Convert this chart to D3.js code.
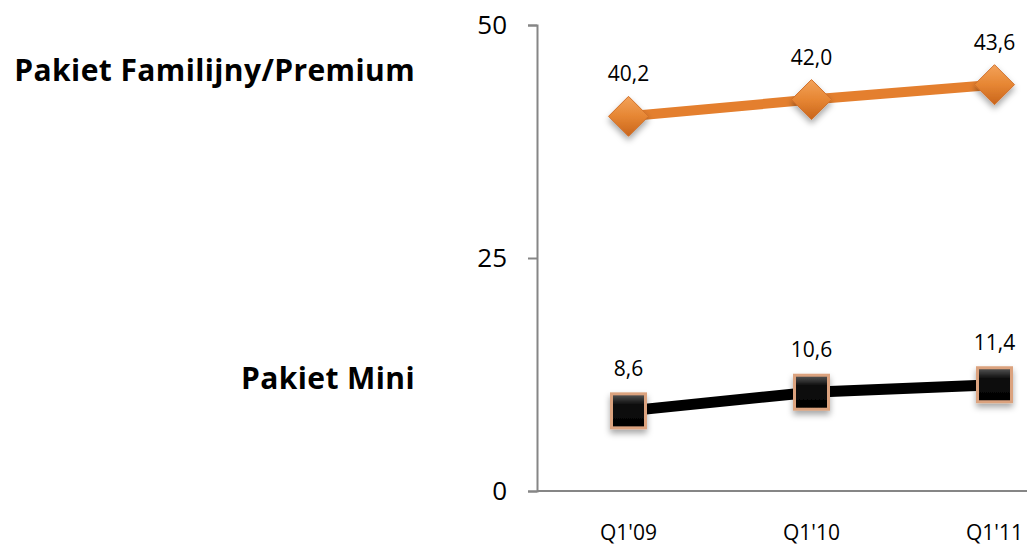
<!DOCTYPE html>
<html>
<head>
<meta charset="utf-8">
<script src="https://cdn.jsdelivr.net/npm/d3@7/dist/d3.min.js"></script>
<style>
  body { margin: 0; background: #fff; }
  text { font-family: "Open Sans", "Noto Sans", sans-serif; }
</style>
</head>
<body>
<div id="chart"></div>
<script>
var categories = ["Q1'09", "Q1'10", "Q1'11"];
var premium = [40.2, 42.0, 43.6];
var mini = [8.6, 10.6, 11.4];
var yTicks = [0, 25, 50];
var seriesNames = ["Pakiet Familijny/Premium", "Pakiet Mini"];

var w = 1027, h = 547;
var svg = d3.select("#chart").append("svg")
    .attr("width", w).attr("height", h);

var defs = svg.append("defs");
var gOr = defs.append("linearGradient").attr("id", "gOr")
    .attr("x1", 0).attr("y1", 0).attr("x2", 0).attr("y2", 1);
gOr.append("stop").attr("offset", "0%").attr("stop-color", "#f3a25a");
gOr.append("stop").attr("offset", "50%").attr("stop-color", "#e68633");
gOr.append("stop").attr("offset", "100%").attr("stop-color", "#c9651c");
var gBk = defs.append("linearGradient").attr("id", "gBk")
    .attr("x1", 0).attr("y1", 0).attr("x2", 0).attr("y2", 1);
gBk.append("stop").attr("offset", "0%").attr("stop-color", "#5a5a5a");
gBk.append("stop").attr("offset", "30%").attr("stop-color", "#111");
gBk.append("stop").attr("offset", "100%").attr("stop-color", "#000");
var sh = defs.append("filter").attr("id", "sh")
    .attr("x", "-50%").attr("y", "-50%").attr("width", "200%").attr("height", "200%");
sh.append("feDropShadow").attr("dx", 0).attr("dy", 4).attr("stdDeviation", 3)
    .attr("flood-color", "#000").attr("flood-opacity", 0.35);

var x = d3.scaleBand().domain(categories).range([537, 1086]);
var y = d3.scaleLinear().domain([0, 50]).range([491, 25]);
var cx = function(d, i) { return x(categories[i]) + x.bandwidth() / 2; };

// y axis
var yAxis = d3.axisLeft(y).tickValues(yTicks).tickSize(9).tickPadding(21);
var ga = svg.append("g").attr("transform", "translate(537,0)").call(yAxis);
ga.select(".domain").attr("stroke", "#868686").attr("stroke-width", 2);
ga.selectAll(".tick line").attr("stroke", "#868686").attr("stroke-width", 2);
ga.selectAll(".tick text").attr("font-size", 26).attr("fill", "#000")
    .attr("font-family", "Open Sans, sans-serif");

// x axis line
svg.append("line").attr("x1", 537).attr("x2", w).attr("y1", y(0)).attr("y2", y(0))
    .attr("stroke", "#868686").attr("stroke-width", 2);
svg.selectAll(".xl").data(categories).enter().append("text")
    .attr("x", function(d) { return x(d) + x.bandwidth() / 2; })
    .attr("y", 540).attr("text-anchor", "middle")
    .attr("font-size", 21).text(function(d) { return d; });

var line = d3.line().x(cx).y(function(d) { return y(d); });

// premium
svg.append("path").datum(premium).attr("d", line)
    .attr("fill", "none").attr("stroke", "#e47f2e").attr("stroke-width", 10);
svg.selectAll(".dm").data(premium).enter().append("path")
    .attr("transform", function(d, i) { return "translate(" + cx(d, i) + "," + y(d) + ")"; })
    .attr("d", "M0,-20L20,0L0,20L-20,0Z")
    .attr("fill", "url(#gOr)").attr("stroke", "#d0702a").attr("stroke-width", 1)
    .attr("filter", "url(#sh)");

// mini
svg.append("path").datum(mini).attr("d", line)
    .attr("fill", "none").attr("stroke", "#000").attr("stroke-width", 11);
svg.selectAll(".sq").data(mini).enter().append("rect")
    .attr("x", function(d, i) { return cx(d, i) - 17; })
    .attr("y", function(d) { return y(d) - 17; })
    .attr("width", 34).attr("height", 34)
    .attr("fill", "url(#gBk)").attr("stroke", "#dba27e").attr("stroke-width", 3)
    .attr("filter", "url(#sh)");

// data labels
function fmt(v) { return v.toFixed(1).replace(".", ","); }
[premium, mini].forEach(function(s) {
  svg.selectAll(null).data(s).enter().append("text")
    .attr("x", cx).attr("y", function(d) { return y(d) - 35; })
    .attr("text-anchor", "middle").attr("font-size", 21)
    .text(fmt);
});

// series labels
svg.selectAll(".sl").data(seriesNames).enter().append("text")
    .attr("x", 415)
    .attr("y", function(d, i) { return i === 0 ? 81 : 389; })
    .attr("text-anchor", "end").attr("font-weight", "bold").attr("font-size", 30)
    .attr("letter-spacing", 0.4)
    .text(function(d) { return d; });
</script>
</body>
</html>
